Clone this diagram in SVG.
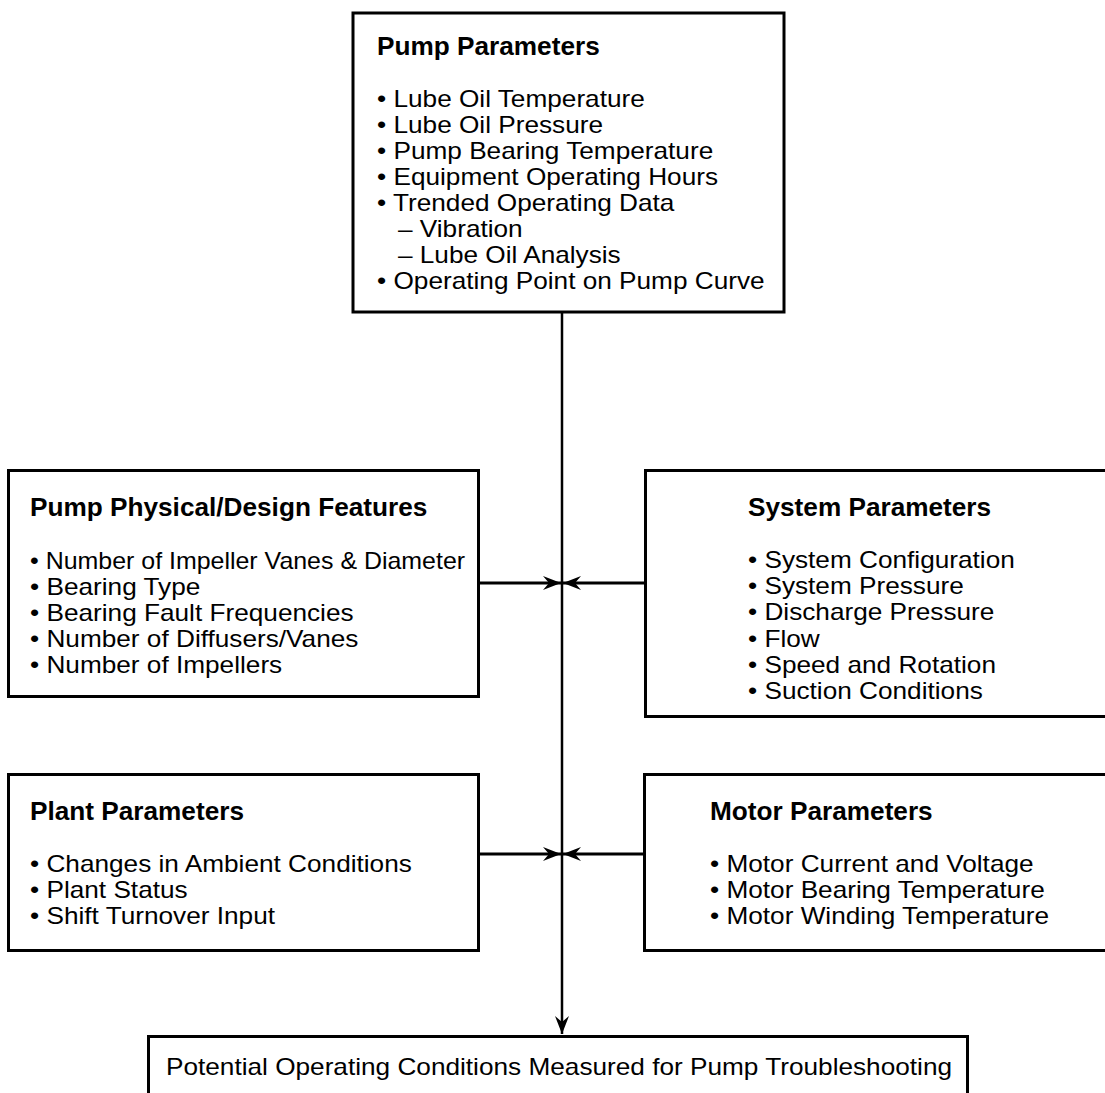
<svg xmlns="http://www.w3.org/2000/svg" width="1105" height="1093" viewBox="0 0 1105 1093">
  <style>
    .box { fill: #ffffff; stroke: #000000; stroke-width: 3; }
    .title { font-family: "Liberation Sans", Arial, sans-serif; font-weight: bold; font-size: 26.2px; fill: #000; }
    .item { font-family: "Liberation Sans", Arial, sans-serif; font-size: 23px; fill: #000; }
    .conn { stroke: #000; fill: none; }
  </style>
  <defs>
    <marker id="arrow" markerUnits="userSpaceOnUse" markerWidth="20" markerHeight="16" viewBox="-19 -8 20 16" refX="0" refY="0" orient="auto">
      <path d="M0,0 L-18,-7 L-12,0 L-18,7 Z" fill="#000"/>
    </marker>
  </defs>
  <rect width="1105" height="1093" fill="#ffffff"/>

  <g id="connectors">
    <line class="conn" x1="562" y1="313" x2="562" y2="1034" stroke-width="2.5" marker-end="url(#arrow)"/>
    <line class="conn" x1="479" y1="583" x2="561" y2="583" stroke-width="3" marker-end="url(#arrow)"/>
    <line class="conn" x1="645" y1="583" x2="563" y2="583" stroke-width="3" marker-end="url(#arrow)"/>
    <line class="conn" x1="479" y1="854" x2="561" y2="854" stroke-width="3" marker-end="url(#arrow)"/>
    <line class="conn" x1="644" y1="854" x2="563" y2="854" stroke-width="3" marker-end="url(#arrow)"/>
  </g>

  <g id="pump-parameters">
    <rect class="box" x="353" y="13" width="431" height="299"/>
    <text class="title" x="377" y="55">Pump Parameters</text>
    <g transform="translate(377 0) scale(1.139 1)">
      <text class="item" x="0" y="107">• Lube Oil Temperature</text>
      <text class="item" x="0" y="133">• Lube Oil Pressure</text>
      <text class="item" x="0" y="159">• Pump Bearing Temperature</text>
      <text class="item" x="0" y="185">• Equipment Operating Hours</text>
      <text class="item" x="0" y="211">• Trended Operating Data</text>
      <text class="item" x="18.4" y="237">– Vibration</text>
      <text class="item" x="18.4" y="263">– Lube Oil Analysis</text>
      <text class="item" x="0" y="289">• Operating Point on Pump Curve</text>
    </g>
  </g>

  <g id="pump-physical-design">
    <rect class="box" x="8.5" y="470.5" width="470" height="226"/>
    <text class="title" x="30" y="516">Pump Physical/Design Features</text>
    <g transform="translate(30 0) scale(1.139 1)">
      <text class="item" x="0" y="569" textLength="382" lengthAdjust="spacingAndGlyphs">• Number of Impeller Vanes &amp; Diameter</text>
      <text class="item" x="0" y="595">• Bearing Type</text>
      <text class="item" x="0" y="621">• Bearing Fault Frequencies</text>
      <text class="item" x="0" y="647">• Number of Diffusers/Vanes</text>
      <text class="item" x="0" y="673">• Number of Impellers</text>
    </g>
  </g>

  <g id="system-parameters">
    <rect class="box" x="645.5" y="470.5" width="470" height="246"/>
    <text class="title" x="748" y="516">System Parameters</text>
    <g transform="translate(748 0) scale(1.139 1)">
      <text class="item" x="0" y="568">• System Configuration</text>
      <text class="item" x="0" y="594">• System Pressure</text>
      <text class="item" x="0" y="620">• Discharge Pressure</text>
      <text class="item" x="0" y="647">• Flow</text>
      <text class="item" x="0" y="673">• Speed and Rotation</text>
      <text class="item" x="0" y="699">• Suction Conditions</text>
    </g>
  </g>

  <g id="plant-parameters">
    <rect class="box" x="8.5" y="774.5" width="470" height="176"/>
    <text class="title" x="30" y="820">Plant Parameters</text>
    <g transform="translate(30 0) scale(1.139 1)">
      <text class="item" x="0" y="872">• Changes in Ambient Conditions</text>
      <text class="item" x="0" y="898">• Plant Status</text>
      <text class="item" x="0" y="924">• Shift Turnover Input</text>
    </g>
  </g>

  <g id="motor-parameters">
    <rect class="box" x="644.5" y="774.5" width="470" height="176"/>
    <text class="title" x="710" y="820">Motor Parameters</text>
    <g transform="translate(710 0) scale(1.139 1)">
      <text class="item" x="0" y="872">• Motor Current and Voltage</text>
      <text class="item" x="0" y="898">• Motor Bearing Temperature</text>
      <text class="item" x="0" y="924">• Motor Winding Temperature</text>
    </g>
  </g>

  <g id="potential-operating-conditions">
    <rect class="box" x="148.5" y="1036.5" width="819" height="100"/>
    <g transform="translate(559 0) scale(1.139 1)">
      <text class="item" x="0" y="1075" text-anchor="middle">Potential Operating Conditions Measured for Pump Troubleshooting</text>
    </g>
  </g>
</svg>
